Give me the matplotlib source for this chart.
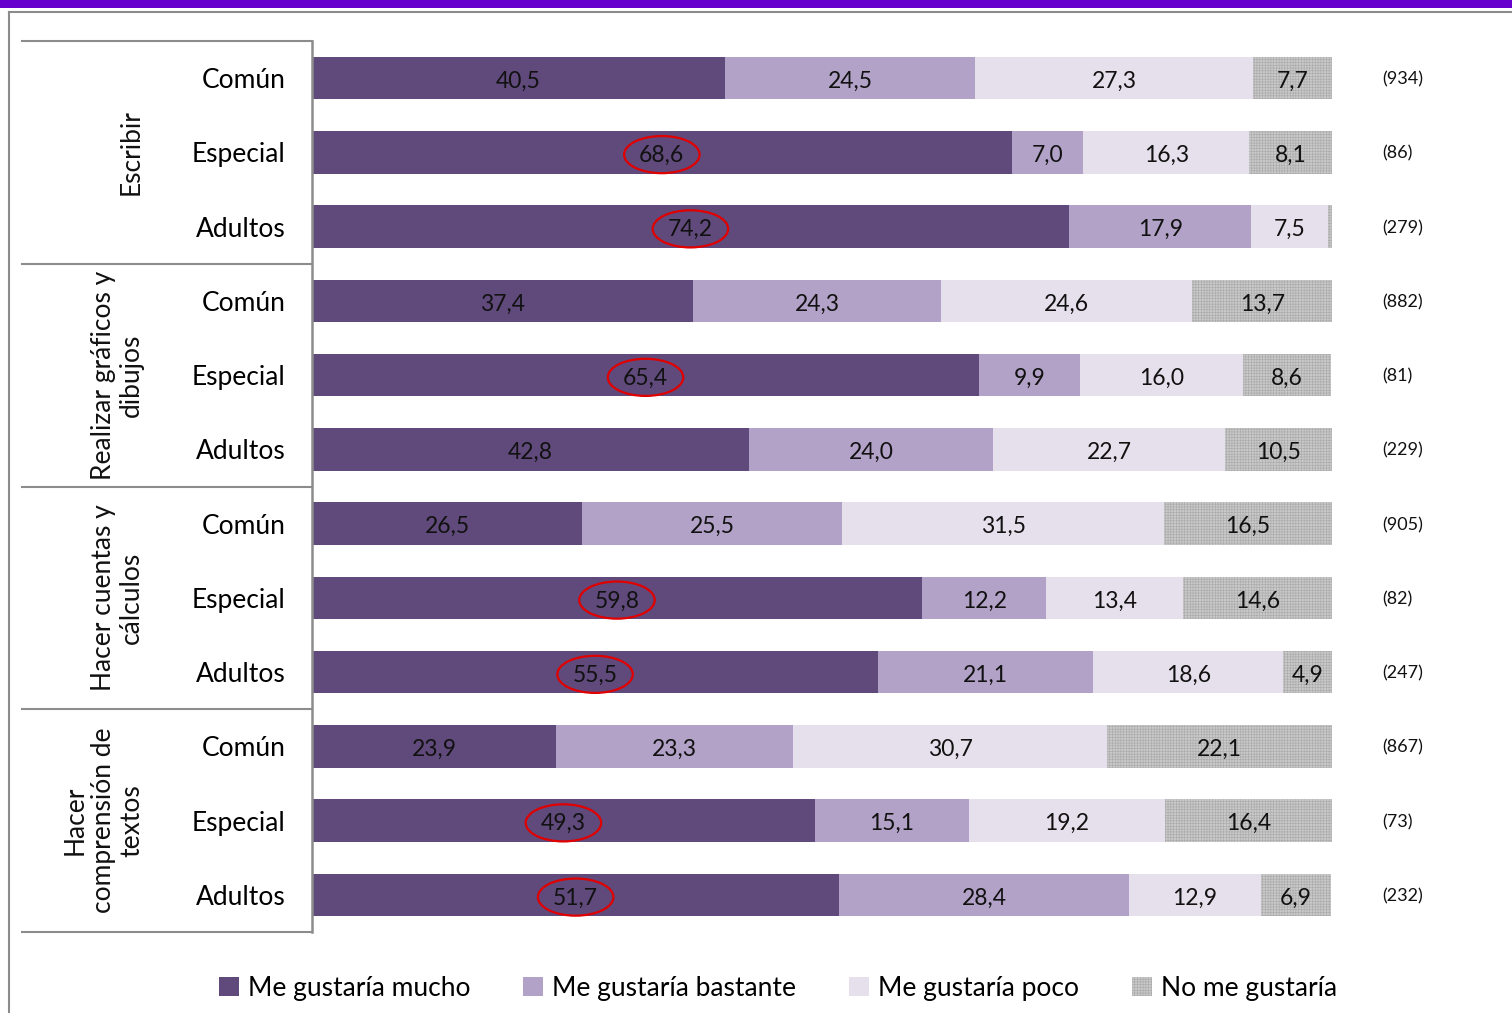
import matplotlib
matplotlib.use("Agg")
import matplotlib.pyplot as plt
from matplotlib.patches import Rectangle, Ellipse
from matplotlib.lines import Line2D
import matplotlib.transforms as mtransforms
import numpy as np

plt.rcParams['font.family'] = ['Lato', 'DejaVu Sans']
plt.rcParams['hatch.linewidth'] = 0.45

groups = ["Escribir", "Realizar gráficos y\ndibujos", "Hacer cuentas y\ncálculos", "Hacer\ncomprensión de\ntextos"]
subgroups = ["Común", "Especial", "Adultos"]
series_names = ["Me gustaría mucho", "Me gustaría bastante", "Me gustaría poco", "No me gustaría"]

mucho    = [40.5, 68.6, 74.2, 37.4, 65.4, 42.8, 26.5, 59.8, 55.5, 23.9, 49.3, 51.7]
bastante = [24.5, 7.0, 17.9, 24.3, 9.9, 24.0, 25.5, 12.2, 21.1, 23.3, 15.1, 28.4]
poco     = [27.3, 16.3, 7.5, 24.6, 16.0, 22.7, 31.5, 13.4, 18.6, 30.7, 19.2, 12.9]
no_gusta = [7.7, 8.1, 0.4, 13.7, 8.6, 10.5, 16.5, 14.6, 4.9, 22.1, 16.4, 6.9]
n_labels = ["(934)", "(86)", "(279)", "(882)", "(81)", "(229)",
            "(905)", "(82)", "(247)", "(867)", "(73)", "(232)"]
highlight = [False, True, True, False, True, False, False, True, True, False, True, True]

colors = ["#604A7B", "#B3A2C7", "#E6E0EC", "#C9C9C9"]

W, H = 1512, 1013
fig = plt.figure(figsize=(W / 100, H / 100), dpi=100)

# top purple band and outer frame
fig.patches.append(Rectangle((0, 1 - 8 / H), 1, 8 / H, transform=fig.transFigure,
                             facecolor="#6600CC", edgecolor="none", zorder=0))
fig.add_artist(Line2D([9 / W, 9 / W], [0, 1 - 12 / H], transform=fig.transFigure,
                      color="#8C8C8C", lw=1.5))
fig.add_artist(Line2D([9 / W, 1], [1 - 12 / H, 1 - 12 / H], transform=fig.transFigure,
                      color="#8C8C8C", lw=1.5))

ax = fig.add_axes([312 / W, (H - 932) / H, 1020 / W, 891 / H])

n = len(mucho)
y = np.arange(n)
series = [mucho, bastante, poco, no_gusta]
left = np.zeros(n)
bar_h = 0.57
for i, (vals, c) in enumerate(zip(series, colors)):
    vals = np.array(vals)
    if i == 3:
        ax.barh(y, vals, left=left, height=bar_h, color=c, edgecolor="#ABABAB",
                linewidth=0, hatch="++++++", label=series_names[i])
    else:
        ax.barh(y, vals, left=left, height=bar_h, color=c, linewidth=0,
                label=series_names[i])
    for k in range(n):
        if vals[k] >= 1:
            ax.text(left[k] + vals[k] / 2, y[k] + 0.04, f"{vals[k]:.1f}".replace(".", ","),
                    ha="center", va="center", fontsize=16.5, color="#111111")
    left = left + vals

# red ellipses around highlighted values
for k in range(n):
    if highlight[k]:
        ax.add_patch(Ellipse((mucho[k] / 2, y[k] + 0.03), 7.4, 0.5, fill=False,
                             edgecolor="#E00000", lw=1.6, zorder=5))

ax.set_xlim(0, 100)
ax.set_ylim(n - 0.5, -0.5)
ax.set_yticks(y)
ax.set_yticklabels(subgroups * 4, fontsize=19)
ax.tick_params(axis="y", length=0, pad=19)
ax.set_xticks([])
for s in ["top", "right", "bottom"]:
    ax.spines[s].set_visible(False)
ax.spines["left"].set_color("#8C8C8C")
ax.spines["left"].set_linewidth(1.8)

# N labels
for k in range(n):
    ax.text(1.049, y[k] + 0.02, n_labels[k], transform=ax.get_yaxis_transform(),
            ha="left", va="center", fontsize=13, color="#111111")

# table lines
trans = mtransforms.blended_transform_factory(ax.transAxes, ax.transData)
x0 = (22 - 312) / 1020
for b in [-0.5, 2.5, 5.5, 8.5, 11.5]:
    ax.add_line(Line2D([x0, 0], [b, b], transform=trans, color="#8C8C8C", lw=1.5, clip_on=False))

# group labels
xg = (144 - 312) / 1020
for g, name in enumerate(groups):
    ax.text(xg, 3 * g + 1, name, transform=trans, rotation=90, rotation_mode="anchor",
            ha="center", va="bottom", multialignment="center", fontsize=19,
            linespacing=1.15, color="#111111")

# legend
handles, labels = ax.get_legend_handles_labels()
fig.legend(handles, labels, loc="center", bbox_to_anchor=(778 / W, 1 - 988 / H),
           ncol=4, frameon=False, fontsize=19, handlelength=0.75, handleheight=0.75,
           handletextpad=0.35, columnspacing=2.0)

fig.savefig("out.png", dpi=100)
